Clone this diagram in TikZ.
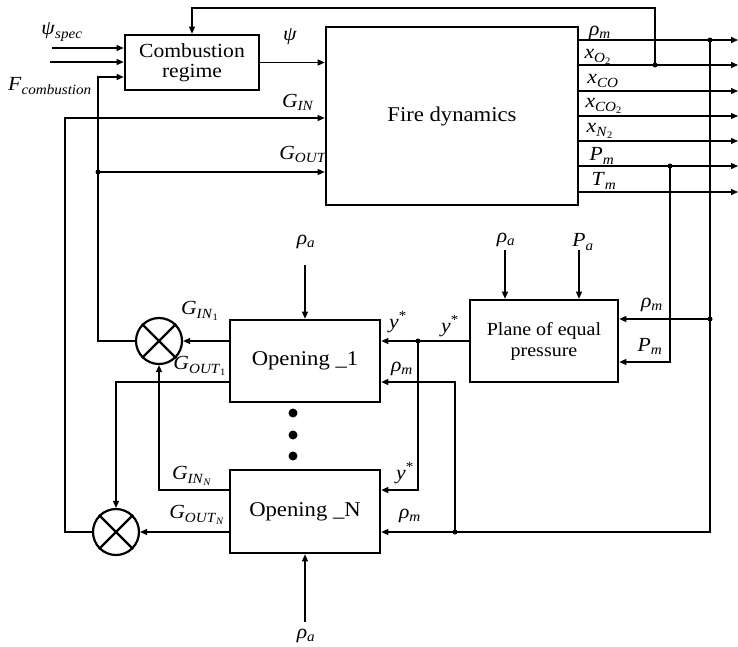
\documentclass[tikz,border=0pt]{standalone}
\usepackage{fontspec}
\setmainfont[FakeStretch=1.08]{Liberation Serif}
\usetikzlibrary{arrows.meta}
\newcommand\lb[2]{\textit{#1}\textsubscript{\textit{#2}}}
\begin{document}
\begin{tikzpicture}[x=1pt,y=-1pt,
  font=\fontsize{21}{20.5}\selectfont,
  blk/.style={draw,line width=2.6pt,align=center,inner sep=0pt},
  sum/.style={draw,circle,line width=2.2pt,minimum size=46pt,inner sep=0pt},
  ln/.style={line width=1.3pt},
  arr/.style={ln,-{Triangle[length=7pt,width=6pt]}},
  dot/.style={circle,fill,inner sep=0pt,minimum size=5pt},
  bigdot/.style={circle,fill,inner sep=0pt,minimum size=9pt},
  lab/.style={inner sep=0pt,font=\fontsize{20}{20}\selectfont}]
\useasboundingbox (0,0) rectangle (738,646);
% blocks
\node[blk,minimum width=134pt,minimum height=55pt,font=\fontsize{20}{20.5}\selectfont] (comb) at (192,62.5) {Combustion\\regime};
\node[blk,minimum width=252pt,minimum height=178pt] (fire) at (452,116) {Fire dynamics};
\node[blk,minimum width=148pt,minimum height=82pt,font=\fontsize{18.5}{21}\selectfont] (plane) at (544,341) {Plane of equal\\pressure};
\node[blk,minimum width=150pt,minimum height=82pt] (op1) at (305,361) {Opening \_1};
\node[blk,minimum width=150pt,minimum height=83pt] (opN) at (305,511.5) {Opening \_N};
\node[sum] (s1) at (159,341) {};
\node[sum] (s2) at (116,532) {};
\foreach \s in {s1,s2}{
  \draw[line width=2.2pt] (\s.north west)--(\s.south east) (\s.north east)--(\s.south west);}
\node[bigdot] (d1) at (293,413) {};
\node[bigdot] (d2) at (293,435) {};
\node[bigdot] (d3) at (293,456) {};
% coordinates
\coordinate (inA) at (52,48);
\coordinate (inB) at (50,62);
\coordinate (top) at (655,8);
\coordinate (jO2) at (655,65);
\coordinate (jR) at (710,40);
\coordinate (jP) at (670,166);
\coordinate (jR2) at (710,319);
\coordinate (jGo) at (98,172);
\coordinate (jY) at (418,341);
\coordinate (jRm) at (455,532);
\foreach \y [count=\i] in {40,65,91,116,141,166,192}{
  \coordinate (o\i) at (738,\y);
  \draw[arr] (fire.east |- o\i) -- (o\i);}
% top feedback
\draw[arr] (jO2) -- (top) -| (comb.north);
% combustion inputs
\draw[arr] (inA) -- (comb.west |- inA);
\draw[arr] (inB) -- (comb.west |- inB);
\draw[arr] (s1.west) -| (98,77) -- (comb.west |- 0,77);
\draw[arr] (jGo) -- (fire.west |- jGo);
\draw[arr] (comb.east) -- (fire.west |- comb.east);
\draw[arr] (s2.west) -| (65,118) -- (fire.west |- 0,118);
% right side
\draw[ln] (jR) -- (710,532) -- (jRm);
\draw[arr] (jRm) -- (opN.east |- jRm);
\draw[arr] (jR2) -- (plane.east |- jR2);
\draw[arr] (jP) |- (plane.east |- 0,362);
\draw[arr] (plane.west |- jY) -- (op1.east |- jY);
\draw[arr] (jY) |- (opN.east |- 0,490);
\draw[arr] (jRm) |- (op1.east |- 0,382);
% rho_a / P_a inputs
\draw[arr] (505,250) -- (plane.north -| 505,0);
\draw[arr] (579,250) -- (plane.north -| 579,0);
\draw[arr] (305,265) -- (op1.north);
\draw[arr] (305,622) -- (opN.south);
% openings to sums
\draw[arr] (op1.west |- s1) -- (s1.east);
\draw[arr] (op1.west |- 0,382) -| (s2.north);
\draw[arr] (opN.west |- 0,490) -| (s1.south);
\draw[arr] (opN.west |- s2) -- (s2.east);
% junction dots
\foreach \c in {jO2,jR,jP,jR2,jGo,jY,jRm} \node[dot] at (\c) {};
% labels
\node[lab] at (62,32) {\lb{ψ}{spec}};
\node[lab] at (50,86) {\lb{F}{combustion}};
\node[lab] at (290,37) {\textit{ψ}};
\node[lab] at (298,102) {\lb{G}{IN}};
\node[lab] at (303,154) {\lb{G}{OUT}};
\node[lab] at (600,33) {\lb{ρ}{m}};
\node[lab] at (598,57) {\textit{x}\textsubscript{\textit{O}\textsubscript{2}}};
\node[lab] at (603,81) {\lb{x}{CO}};
\node[lab] at (604,106) {\textit{x}\textsubscript{\textit{CO}\textsubscript{2}}};
\node[lab] at (600,131) {\textit{x}\textsubscript{\textit{N}\textsubscript{2}}};
\node[lab] at (602,156) {\lb{P}{m}};
\node[lab] at (604,181) {\lb{T}{m}};
\node[lab] at (506,240) {\lb{ρ}{a}};
\node[lab] at (583,242) {\lb{P}{a}};
\node[lab] at (652,305) {\lb{ρ}{m}};
\node[lab] at (650,346) {\lb{P}{m}};
\node[lab] at (398,322) {\textit{y}\textsuperscript{*}};
\node[lab] at (450,326) {\textit{y}\textsuperscript{*}};
\node[lab] at (402,369) {\lb{ρ}{m}};
\node[lab] at (405,473) {\textit{y}\textsuperscript{*}};
\node[lab] at (410,516) {\lb{ρ}{m}};
\node[lab] at (200,311) {\textit{G}\textsubscript{\textit{IN}\textsubscript{1}}};
\node[lab] at (200,366) {\textit{G}\textsubscript{\textit{OUT}\textsubscript{1}}};
\node[lab] at (192,476) {\textit{G}\textsubscript{\textit{IN}\textsubscript{\textit{N}}}};
\node[lab] at (197,515) {\textit{G}\textsubscript{\textit{OUT}\textsubscript{\textit{N}}}};
\node[lab] at (306,242) {\lb{ρ}{a}};
\node[lab] at (306,636) {\lb{ρ}{a}};
\end{tikzpicture}
\end{document}
